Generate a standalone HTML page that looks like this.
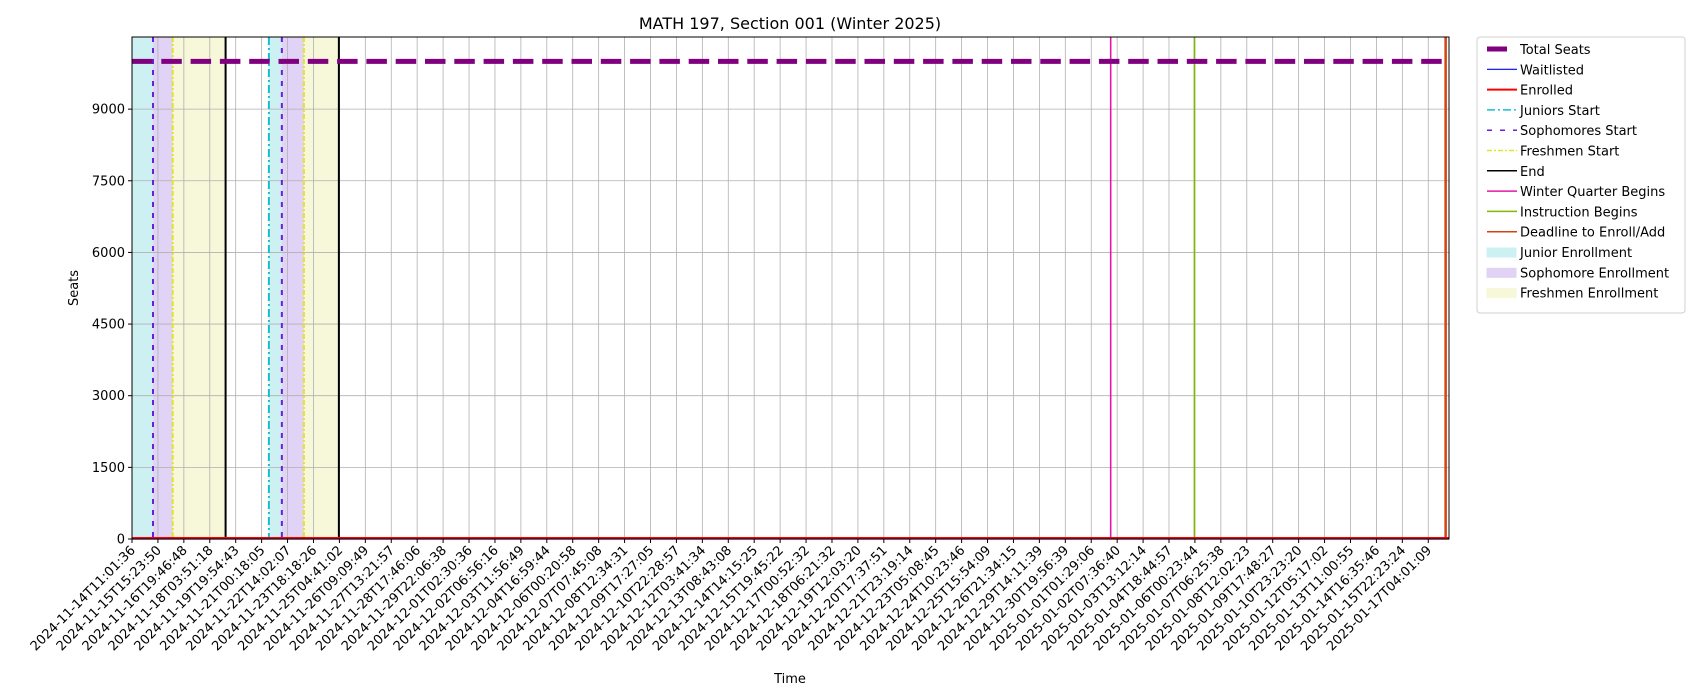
<!DOCTYPE html>
<html><head><meta charset="utf-8"><style>
body{margin:0;background:#fff;}
svg{display:block;font-family:"DejaVu Sans","Liberation Sans",sans-serif;}
</style></head><body>
<svg id="chart" width="1700" height="700" xmlns="http://www.w3.org/2000/svg">
<rect width="1700" height="700" fill="#fff"/>
<text x="790" y="29" font-size="16" text-anchor="middle">MATH 197, Section 001 (Winter 2025)</text>
<text x="0" y="0" font-size="13" text-anchor="middle" transform="translate(78,288) rotate(-90)">Seats</text>
<text x="790" y="683" font-size="13" text-anchor="middle">Time</text>
<g id="plot"></g>
<g id="legend"></g>
</svg>
<script>
const tickLabels = ["2024-11-14T11:01:36","2024-11-15T15:23:50","2024-11-16T19:46:48","2024-11-18T03:51:18","2024-11-19T19:54:43","2024-11-21T00:18:05","2024-11-22T14:02:07","2024-11-23T18:18:26","2024-11-25T04:41:02","2024-11-26T09:09:49","2024-11-27T13:21:57","2024-11-28T17:46:06","2024-11-29T22:06:38","2024-12-01T02:30:36","2024-12-02T06:56:16","2024-12-03T11:56:49","2024-12-04T16:59:44","2024-12-06T00:20:58","2024-12-07T07:45:08","2024-12-08T12:34:31","2024-12-09T17:27:05","2024-12-10T22:28:57","2024-12-12T03:41:34","2024-12-13T08:43:08","2024-12-14T14:15:25","2024-12-15T19:45:22","2024-12-17T00:52:32","2024-12-18T06:21:32","2024-12-19T12:03:20","2024-12-20T17:37:51","2024-12-21T23:19:14","2024-12-23T05:08:45","2024-12-24T10:23:46","2024-12-25T15:54:09","2024-12-26T21:34:15","2024-12-29T14:11:39","2024-12-30T19:56:39","2025-01-01T01:29:06","2025-01-02T07:36:40","2025-01-03T13:12:14","2025-01-04T18:44:57","2025-01-06T00:23:44","2025-01-07T06:25:38","2025-01-08T12:02:23","2025-01-09T17:48:27","2025-01-10T23:23:20","2025-01-12T05:17:02","2025-01-13T11:00:55","2025-01-14T16:35:46","2025-01-15T22:23:24","2025-01-17T04:01:09"];
const yTicks = [0,1500,3000,4500,6000,7500,9000];
const totalSeats = 10000;
const enrolled = 0;
const waitlisted = 0;
const juniorSpans = [[0,0.81],[5.28,5.78]];
const sophSpans = [[0.81,1.57],[5.78,6.63]];
const freshSpans = [[1.57,3.61],[6.63,7.98]];
const juniorsStart = [5.28];
const sophStart = [0.81,5.78];
const freshStart = [1.57,6.63];
const endLines = [3.61,7.98];
const winterBegins = [37.75];
const instructionBegins = [40.98];
const deadline = [50.67];

const L=132,R=1449,T=37,B=539,XMAX=50.8,YMAX=10510;
const xs=u=>L+u/XMAX*(R-L);
const ys=v=>B-v/YMAX*(B-T);
const NS="http://www.w3.org/2000/svg";
const plot=document.getElementById('plot');
function mk(tag,attrs,parent){const e=document.createElementNS(NS,tag);for(const k in attrs)e.setAttribute(k,attrs[k]);(parent||plot).appendChild(e);return e;}

function spans(arr,fill,name){arr.forEach(s=>{const r=mk('rect',{x:xs(s[0]),y:T,width:xs(s[1])-xs(s[0]),height:B-T,fill:fill});

});}
spans(juniorSpans,'#cdf0f3','junior-enrollment-span');
spans(sophSpans,'#e0d3f5','sophomore-enrollment-span');
spans(freshSpans,'#f7f7d9','freshmen-enrollment-span');

tickLabels.forEach((t,i)=>{const g=mk('line',{x1:xs(i),x2:xs(i),y1:T,y2:B,stroke:'#b0b0b0','stroke-width':0.8});

});
yTicks.forEach(v=>{const g=mk('line',{x1:L,x2:R,y1:ys(v),y2:ys(v),stroke:'#b0b0b0','stroke-width':0.8});

});

function vl(arr,color,w,dash,name){arr.forEach(u=>{const a={x1:xs(u),x2:xs(u),y1:T,y2:B,stroke:color,'stroke-width':w};if(dash)a['stroke-dasharray']=dash;const l=mk('line',a);

});}
vl(juniorsStart,'#17becf',2,'8,3,2,3','juniors-start-line');
vl(sophStart,'#6a1fd8',2,'5,6','sophomores-start-line');
vl(freshStart,'#e3e32a',2,'5,2,2,2','freshmen-start-line');
vl(endLines,'#000',2,null,'end-line');
vl(winterBegins,'#e617a6',1.6,null,'winter-quarter-begins-line');
vl(instructionBegins,'#7fba00',1.6,null,'instruction-begins-line');
vl(deadline,'#d4420e',2.5,null,'deadline-line');

let l=mk('line',{x1:L,x2:R,y1:ys(totalSeats),y2:ys(totalSeats),stroke:'#800080','stroke-width':5,'stroke-dasharray':'20.5,8.8'});


l=mk('line',{x1:L,x2:R,y1:ys(waitlisted),y2:ys(waitlisted),stroke:'#0000ff','stroke-width':1.2});


l=mk('line',{x1:L,x2:R,y1:ys(enrolled)-1,y2:ys(enrolled)-1,stroke:'#ff0000','stroke-width':2});



l=mk('rect',{x:L,y:T,width:R-L,height:B-T,fill:'none',stroke:'#000','stroke-width':1});



yTicks.forEach(v=>{mk('line',{x1:L-4,x2:L,y1:ys(v),y2:ys(v),stroke:'#000'});
const t=mk('text',{x:L-7,y:ys(v)+4.5,'font-size':13,'text-anchor':'end'});t.textContent=v;

});
tickLabels.forEach((s,i)=>{const x=xs(i);mk('line',{x1:x,x2:x,y1:B,y2:B+4,stroke:'#000'});
const t=mk('text',{x:0,y:0,'font-size':13,'text-anchor':'end',transform:`translate(${x+4},${B+12}) rotate(-45)`});t.textContent=s;

});

const leg=document.getElementById('legend');
mk('rect',{x:1477,y:37,width:208,height:276,rx:3,fill:'#fff',stroke:'#d0d0d0'},leg);
const items=[["Total Seats","line","#800080",5,"20,100"],["Waitlisted","line","#0000ff",1.2,null],["Enrolled","line","#ff0000",2,null],["Juniors Start","line","#17becf",1.5,"8,3,2,3"],["Sophomores Start","line","#6a1fd8",1.5,"5,8"],["Freshmen Start","line","#e3e32a",1.5,"5,2,2,2"],["End","line","#000",1.5,null],["Winter Quarter Begins","line","#e617a6",1.5,null],["Instruction Begins","line","#7fba00",1.5,null],["Deadline to Enroll/Add","line","#d4420e",1.5,null],["Junior Enrollment","patch","#cdf0f3"],["Sophomore Enrollment","patch","#e0d3f5"],["Freshmen Enrollment","patch","#f7f7d9"]];
items.forEach((it,i)=>{const y=49+i*20.3;const g=mk('g',{},leg);


if(it[1]==='line'){const a={x1:1487,x2:1517,y1:y,y2:y,stroke:it[2],'stroke-width':it[3]};if(it[4])a['stroke-dasharray']=it[4];mk('line',a,g);}
else mk('rect',{x:1487,y:y-4,width:29,height:9,fill:it[2],stroke:it[2]},g);
const t=mk('text',{x:1520,y:y+5,'font-size':13},g);t.textContent=it[0];});
</script>
</body></html>
